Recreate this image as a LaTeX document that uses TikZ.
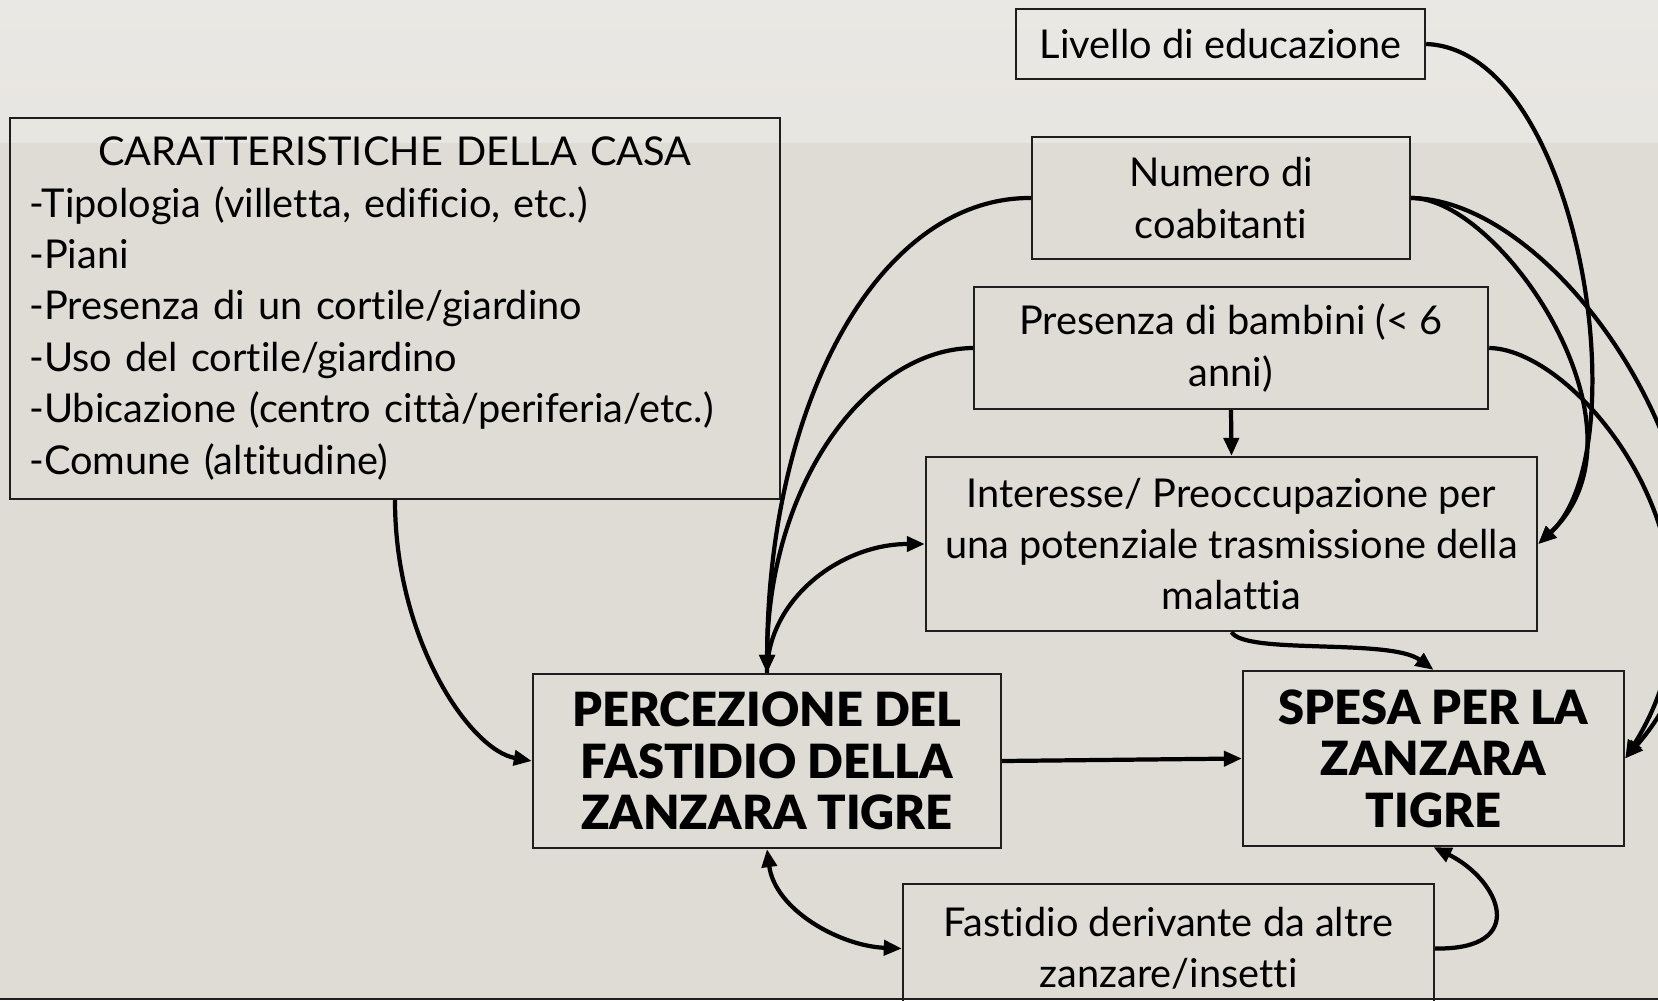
\documentclass[tikz,border=0pt]{standalone}
\usepackage{fontspec}
\setmainfont{Lato}[Ligatures=NoCommon]
\newfontfamily\heavyfont{Lato Black}[Ligatures=NoCommon]
\usetikzlibrary{arrows.meta}
\definecolor{slidebg}{HTML}{DFDCD5}
\definecolor{slidetop}{HTML}{EAE8E4}
\definecolor{edgeline}{HTML}{1E1E1E}

\begin{document}
\begin{tikzpicture}[x=0.01cm,y=-0.01cm,
    font=\fontsize{11.3}{14.6}\selectfont,
    box/.style={draw=edgeline, line width=0.6pt, align=center, inner sep=0pt},
    headbox/.style={box, font=\fontsize{13.4}{14.6}\selectfont\heavyfont},
    conn/.style={line width=1.2pt, -{Triangle[length=1.8mm,width=1.5mm]}},
    twoway/.style={line width=1.2pt, {Triangle[length=1.8mm,width=1.5mm]}-{Triangle[length=1.8mm,width=1.5mm]}}]
  \useasboundingbox (0,0) rectangle (1658,1000);
  \clip (0,0) rectangle (1658,1000);

  % slide background
  \fill[slidebg] (0,0) rectangle (1658,1000);
  \shade[top color=slidetop, bottom color=slidetop!80!slidebg] (0,0) rectangle (1658,142);
  \draw[edgeline, line width=0.02cm] (0,999) -- (1658,999);

  % boxes
  \node[box, minimum width=4.09cm, minimum height=0.705cm] (livello) at (1220.5,44) {Livello di educazione};
  \node[box, minimum width=7.69cm, minimum height=3.81cm, align=left, inner xsep=0.19cm, text width=7.31cm] (casa) at (395,308.5)
    {\makebox[\linewidth]{CARATTERISTICHE DELLA CASA}\\
     -Tipologia (villetta, edificio, etc.)\\
     -Piani\\
     -Presenza di un cortile/giardino\\
     -Uso del cortile/giardino\\
     -Ubicazione (centro città/periferia/etc.)\\
     -Comune (altitudine)};
  \node[box, minimum width=3.78cm, minimum height=1.22cm] (numero) at (1221,198) {Numero di\\coabitanti};
  \node[box, minimum width=5.14cm, minimum height=1.22cm] (presenza) at (1231,348) {Presenza di bambini (< 6\\anni)};
  \node[box, minimum width=6.11cm, minimum height=1.74cm] (interesse) at (1231.5,544)
    {Interesse/ Preoccupazione per\\una potenziale trasmissione della\\malattia};
  \node[headbox, minimum width=4.68cm, minimum height=1.74cm] (percezione) at (767,761)
    {PERCEZIONE DEL\\FASTIDIO DELLA\\ZANZARA TIGRE};
  \node[headbox, minimum width=3.81cm, minimum height=1.75cm] (spesa) at (1433.5,758.5)
    {SPESA PER LA\\ZANZARA\\TIGRE};
  \node[box, minimum width=5.31cm, minimum height=1.29cm] (fastidio) at (1168.5,948.5)
    {Fastidio derivante da altre\\zanzare/insetti};

  % links into the worry box
  \draw[conn] (livello.east) .. controls (1580,50) and (1640,450) .. (interesse.east);
  \draw[conn] (numero.east) .. controls (1500,197) and (1660,430) .. (interesse.east);
  \draw[conn] (presenza.south) -- (interesse.north);

  % links into the annoyance box
  \draw[conn] (numero.west) .. controls (880,197) and (768,400) .. (percezione.north);
  \draw[conn] (presenza.west) .. controls (870,349) and (768,480) .. (percezione.north);
  \draw[conn] (percezione.north) .. controls (767,600) and (840,544) .. (interesse.west);
  \draw[conn] (casa.south) .. controls (395,640) and (470,750) .. (percezione.west);
  \draw[twoway] (percezione.south) .. controls (775,910) and (840,946) .. (fastidio.west);

  % links into the spending box
  \draw[conn] (numero.east) .. controls (1580,200) and (1800,560) .. (spesa.east);
  \draw[conn] (presenza.east) .. controls (1580,349) and (1750,560) .. (spesa.east);
  \draw[conn] (interesse.south) .. controls (1245,655) and (1390,638) .. (spesa.north);
  \draw[conn] (percezione.east) -- (spesa.west);
  \draw[conn] (fastidio.east) .. controls (1530,950) and (1500,880) .. (spesa.south);
\end{tikzpicture}
\end{document}
